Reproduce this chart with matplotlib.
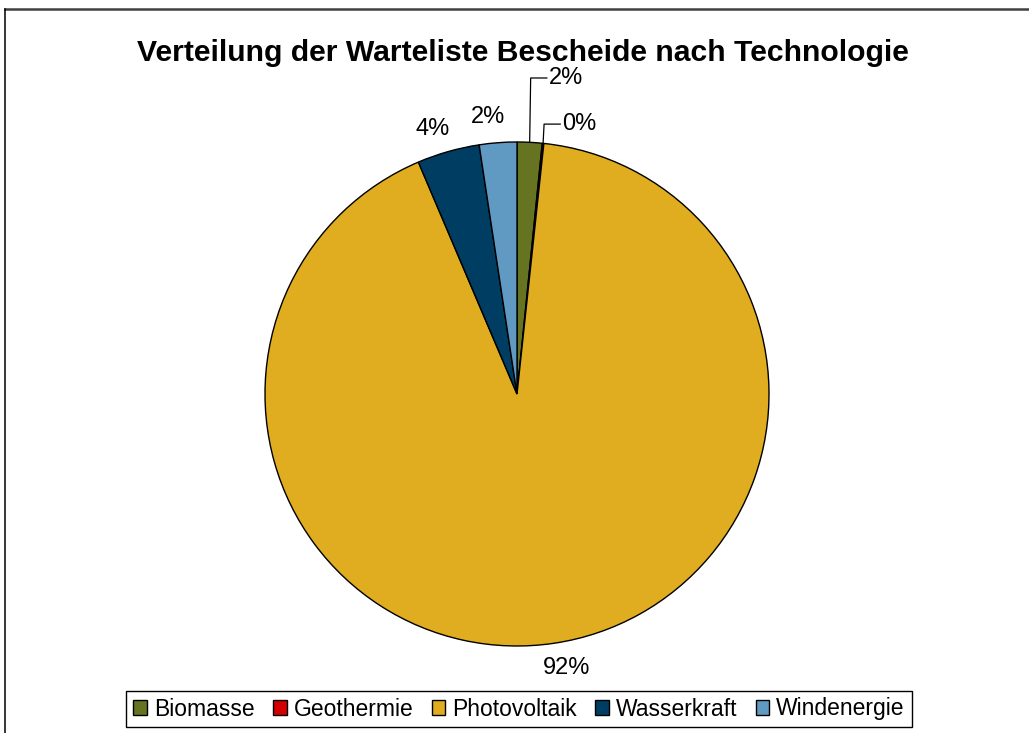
import numpy as np
import matplotlib
matplotlib.use("Agg")
import matplotlib.pyplot as plt
from matplotlib.lines import Line2D

plt.rcParams["font.family"] = ["Liberation Sans", "DejaVu Sans"]

# Daten (Anzahl Bescheide, aus der Grafik geschätzt)
technologien = ["Biomasse", "Geothermie", "Photovoltaik", "Wasserkraft", "Windenergie"]
anzahl = [16, 1, 919, 40, 24]
farben = ["#667320", "#d40000", "#e0ac20", "#003d62", "#609ac2"]

W, H = 1029, 733
fig = plt.figure(figsize=(W / 100, H / 100), dpi=100)

# Pie-Achse: Mittelpunkt (517, 394), Radius 252 px
cx, cy, r = 517, 394, 252
ax = fig.add_axes([(cx - r) / W, (H - cy - r) / H, 2 * r / W, 2 * r / H])
wedges, _ = ax.pie(anzahl, colors=farben, startangle=90, counterclock=False,
                   wedgeprops=dict(edgecolor="black", linewidth=1.0))
ax.set_xlim(-1, 1)
ax.set_ylim(-1, 1)
ax.set_aspect("equal")
ax.axis("off")

total = sum(anzahl)
labels = [f"{round(v / total * 100):.0f}%" for v in anzahl]

# Beschriftungen
for i, w in enumerate(wedges):
    mid = np.deg2rad((w.theta1 + w.theta2) / 2)
    if technologien[i] in ("Biomasse", "Geothermie"):
        # Führungslinie nach oben, dann nach rechts
        x0, y0 = np.cos(mid), np.sin(mid)
        elbow_y = 1.254 if technologien[i] == "Biomasse" else 1.071
        end_x = x0 + 0.068
        ax.plot([x0, x0 + 0.004, end_x], [y0, elbow_y, elbow_y], color="black",
                lw=0.9, clip_on=False)
        ax.text(end_x + 0.008, elbow_y, labels[i], ha="left", va="center",
                fontsize=17, clip_on=False)
    else:
        d = 1.105
        ax.text(d * np.cos(mid + 0.03), d * np.sin(mid + 0.03), labels[i],
                ha="center", va="center", fontsize=17, clip_on=False)

fig.text(523 / W, 1 - 53 / H, "Verteilung der Warteliste Bescheide nach Technologie",
         ha="center", va="center", fontsize=21.7, fontweight="bold")

leg = fig.legend(wedges, technologien, loc="center", ncol=5,
                 bbox_to_anchor=(519 / W, 1 - 709 / H), fontsize=16.5,
                 handlelength=0.6, handleheight=0.6, handletextpad=0.3,
                 columnspacing=0.8, borderpad=0.3, fancybox=False,
                 framealpha=1, edgecolor="black")
leg.get_frame().set_linewidth(1.0)

# Rahmen oben und links
fig.add_artist(Line2D([5 / W, 1], [1 - 8.5 / H, 1 - 8.5 / H], color="#404040",
                      lw=1.8, transform=fig.transFigure))
fig.add_artist(Line2D([5 / W, 5 / W], [0, 1 - 8.5 / H], color="black",
                      lw=1.1, transform=fig.transFigure))

fig.savefig("out.png", dpi=100, facecolor="white")
